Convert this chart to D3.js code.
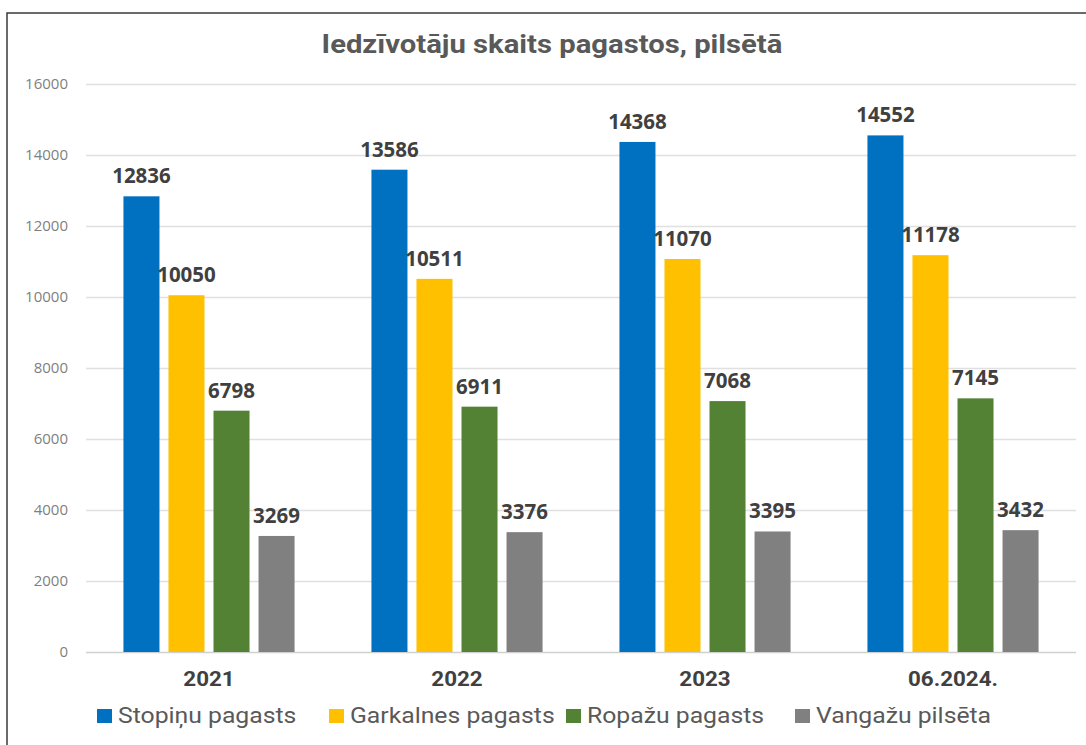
<!DOCTYPE html>
<html>
<head>
<meta charset="utf-8">
<script src="https://cdn.jsdelivr.net/npm/d3@7"></script>
<style>
  body { margin: 0; background: #fff; }
  svg { display: block; }
</style>
</head>
<body>
<svg id="chart" width="1086" height="745"></svg>
<script>
const years = ["2021", "2022", "2023", "06.2024."];
const seriesNames = ["Stopiņu pagasts", "Garkalnes pagasts", "Ropažu pagasts", "Vangažu pilsēta"];
const stopini = [12836, 13586, 14368, 14552];
const garkalne = [10050, 10511, 11070, 11178];
const ropazi = [6798, 6911, 7068, 7145];
const vangazi = [3269, 3376, 3395, 3432];
const yTicks = [0, 2000, 4000, 6000, 8000, 10000, 12000, 14000, 16000];
const colors = ["#0070C0", "#FFC000", "#548235", "#808080"];

const svg = d3.select("#chart");
const width = 1086, height = 745;
const margin = { left: 86, right: 10, top: 84, bottom: 93 };
const roboto = "Roboto, 'Noto Sans', sans-serif";

// frame (left and top edge of the screenshot)
svg.append("path").attr("d", `M7,${height} V13 H${width}`).attr("fill", "none").attr("stroke", "#3a3a3a").attr("stroke-width", 1.5);

const allSeries = [stopini, garkalne, ropazi, vangazi];
const data = years.map((y, i) => ({ year: y, values: allSeries.map(s => s[i]) }));

const x0 = d3.scaleBand().domain(years).range([margin.left - 1, 1077]).paddingInner(0.31).paddingOuter(0.155);
const x1 = d3.scaleBand().domain(d3.range(4)).range([0, x0.bandwidth()]).paddingInner(0.2);
const y = d3.scaleLinear().domain([0, 16000]).range([height - margin.bottom, margin.top]);

// grid + y labels
const yAxis = d3.axisLeft(y).tickValues(yTicks).tickFormat(d3.format("d")).tickSize(-(1076 - margin.left)).tickPadding(18);
const gy = svg.append("g").attr("transform", `translate(${margin.left},0)`).call(yAxis);
gy.select(".domain").remove();
gy.selectAll(".tick line").attr("stroke", "#e0e0e0").attr("stroke-width", 1.3);
gy.selectAll(".tick text").attr("fill", "#7f7f7f").style("font-family", "'Open Sans', sans-serif").style("font-size", "15px");
gy.select(".tick line").attr("stroke", "#d0d0d0");

// bars
const groups = svg.append("g").selectAll("g").data(data).enter().append("g")
  .attr("transform", d => `translate(${x0(d.year)},0)`);
groups.selectAll("rect").data(d => d.values).enter().append("rect")
  .attr("x", (d, i) => x1(i)).attr("y", d => y(d)).attr("width", x1.bandwidth())
  .attr("height", d => y(0) - y(d)).attr("fill", (d, i) => colors[i]);
groups.selectAll("text").data(d => d.values).enter().append("text")
  .attr("x", (d, i) => x1(i) + x1.bandwidth() / 2).attr("y", d => y(d) - 13)
  .attr("text-anchor", "middle").attr("fill", "#404040")
  .style("font-family", "'Open Sans', sans-serif").style("font-weight", "bold").style("font-size", "20.5px")
  .text(d => d);

// x labels
const xAxis = d3.axisBottom(x0).tickSize(0).tickPadding(20);
const gx = svg.append("g").attr("transform", `translate(0,${y(0)})`).call(xAxis);
gx.select(".domain").remove();
gx.selectAll(".tick text").attr("fill", "#404040").attr("transform", "scale(1.12,1)")
  .style("font-family", roboto).style("font-weight", "bold").style("font-size", "20px");

// title
svg.append("text").attr("transform", "translate(552,53) scale(1.17,1)").attr("text-anchor", "middle").attr("fill", "#595959")
  .style("font-family", roboto).style("font-weight", "bold").style("font-size", "25px")
  .text("Iedzīvotāju skaits pagastos, pilsētā");

// legend
const legendX = [97, 329, 566, 795];
const legend = svg.append("g").selectAll("g").data(seriesNames).enter().append("g")
  .attr("transform", (d, i) => `translate(${legendX[i]},723)`);
legend.append("rect").attr("x", 0).attr("y", -14).attr("width", 15).attr("height", 14).attr("fill", (d, i) => colors[i]);
legend.append("text").attr("transform", "translate(21,0) scale(1.1,1)").attr("fill", "#595959")
  .style("font-family", roboto).style("font-size", "22.5px").text(d => d);
</script>
</body>
</html>
